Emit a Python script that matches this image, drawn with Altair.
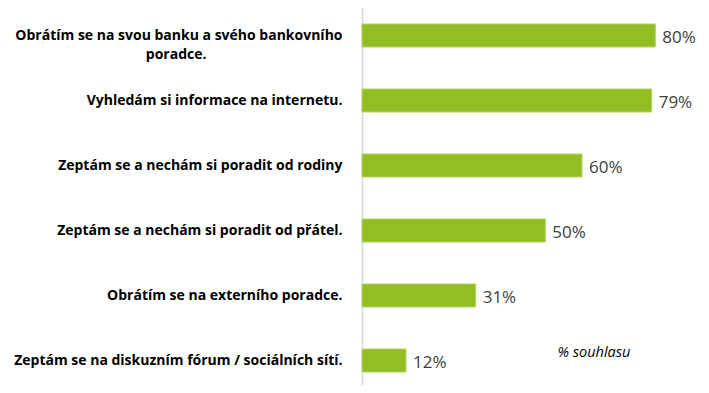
import altair as alt
import pandas as pd

categories = [
    "Obrátím se na svou banku a svého bankovního|poradce.",
    "Vyhledám si informace na internetu.",
    "Zeptám se a nechám si poradit od rodiny",
    "Zeptám se a nechám si poradit od přátel.",
    "Obrátím se na externího poradce.",
    "Zeptám se na diskuzním fórum / sociálních sítí.",
]
values = [80, 79, 60, 50, 31, 12]
labels = ["80%", "79%", "60%", "50%", "31%", "12%"]

df = pd.DataFrame({"cat": categories, "val": values, "lab": labels})

FONT = "Open Sans"
PAD = "\u2003" * 9 + "\u2800"

y_enc = alt.Y(
    "cat:N",
    sort=categories,
    scale=alt.Scale(paddingInner=0, paddingOuter=0),
    axis=alt.Axis(
        title=None,
        ticks=False,
        domain=True,
        domainColor="#d9d9d9",
        domainWidth=1.5,
        grid=False,
        labelFont=FONT,
        labelFontSize=14,
        labelFontWeight="bold",
        labelColor="#000000",
        labelPadding=20,
        labelLimit=400,
        labelLineHeight=19,
        labelExpr="datum.value == 'Obrátím se na svou banku a svého bankovního|poradce.' ? ['Obrátím se na svou banku a svého bankovního', 'poradce." + PAD + "'] : datum.value",
    ),
)

x_enc = alt.X(
    "val:Q",
    scale=alt.Scale(domain=[0, 90]),
    axis=alt.Axis(
        title="% souhlasu",
        labels=False,
        ticks=False,
        domain=False,
        grid=False,
        titleFont=FONT,
        titleFontSize=14.5,
        titleFontStyle="italic",
        titleFontWeight="normal",
        titleColor="#000000",
        titleAlign="left",
        titleBaseline="alphabetic",
        titleX=195,
        titleY=-37,
    ),
)

bars = alt.Chart(df).mark_bar(size=23, color="#93BD25", stroke="#B4D45C", strokeWidth=1).encode(
    x=x_enc, y=y_enc
)

text = alt.Chart(df).mark_text(
    align="left", baseline="middle", dx=7, dy=2, font=FONT, fontSize=17, color="#404040"
).encode(
    x=alt.X("val:Q"),
    y=alt.Y("cat:N", sort=categories),
    text="lab:N",
)

chart = (
    alt.layer(bars, text)
    .properties(
        width=330,
        height=390,
        view=alt.ViewBackground(stroke="transparent", strokeWidth=0),
        autosize=alt.AutoSizeParams(type="none"),
        padding={"left": 354, "top": -5, "right": 9, "bottom": -8},
    )
    .configure_view(stroke="transparent", strokeWidth=0)
    .configure(background="#ffffff")
)

chart.save("out.html", embed_options={"renderer": "svg", "actions": False})
